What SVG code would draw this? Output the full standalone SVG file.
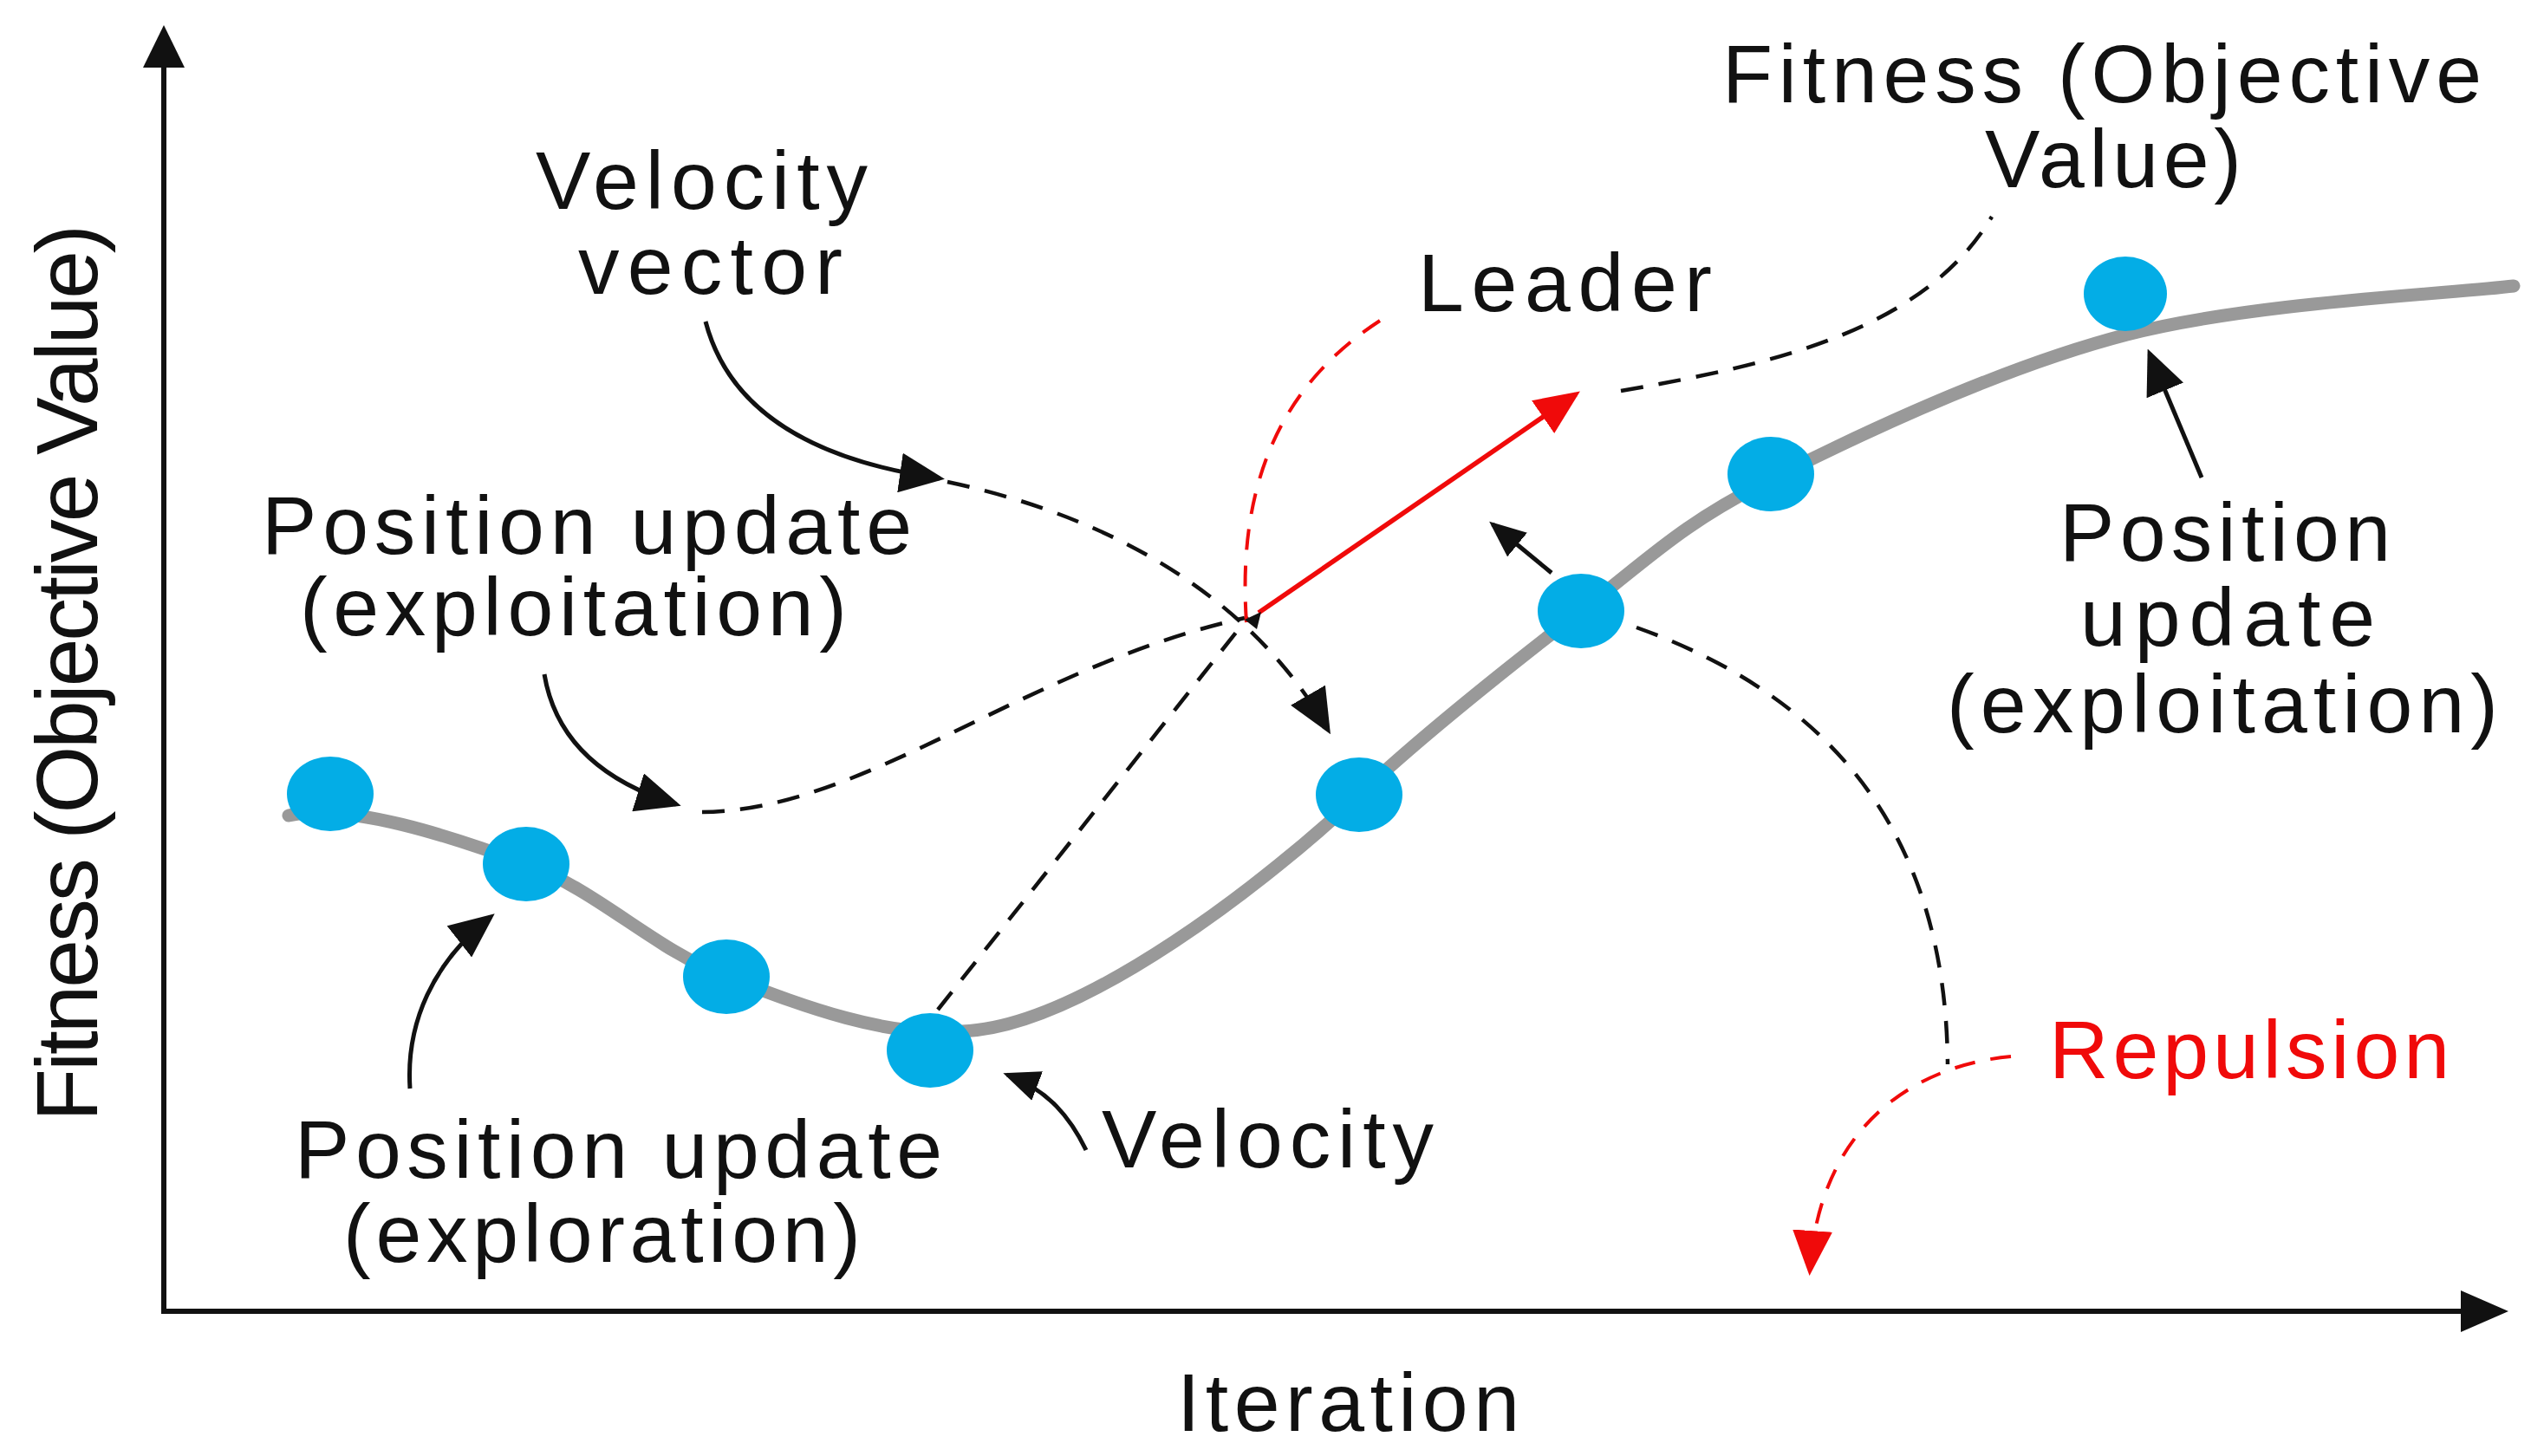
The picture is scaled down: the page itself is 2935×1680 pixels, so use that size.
<svg xmlns="http://www.w3.org/2000/svg" width="2935" height="1680" viewBox="0 0 2935 1680">
<style>
text{font-family:"Liberation Sans",Arial,sans-serif;font-size:95px;fill:#111}
.red{fill:#f00a0a}
.axis{stroke:#111;stroke-width:6;fill:none}
.curve{stroke:#999;stroke-width:15;fill:none;stroke-linecap:round}
.node{fill:#03ade6}
.solid{stroke:#111;stroke-width:5;fill:none}
.dash{stroke:#111;stroke-width:4.5;fill:none;stroke-dasharray:26 18}
.rdash{stroke:#f00a0a;stroke-width:4;fill:none;stroke-dasharray:24 18}
.rsolid{stroke:#f00a0a;stroke-width:5.5;fill:none}
</style>
<defs>
<marker id="ab" viewBox="0 0 52 46" refX="46" refY="23" markerWidth="52" markerHeight="46" markerUnits="userSpaceOnUse" orient="auto"><path d="M0,0 L52,23 L0,46 z" fill="#111"/></marker>
<marker id="as" viewBox="0 0 42 36" refX="37" refY="18" markerWidth="42" markerHeight="36" markerUnits="userSpaceOnUse" orient="auto"><path d="M0,0 L42,18 L0,36 z" fill="#111"/></marker>
<marker id="ar" viewBox="0 0 52 46" refX="46" refY="23" markerWidth="52" markerHeight="46" markerUnits="userSpaceOnUse" orient="auto"><path d="M0,0 L52,23 L0,46 z" fill="#f00a0a"/></marker>
</defs>
<rect width="2935" height="1680" fill="#fff"/>
<g id="axes">
<path class="axis" d="M189 1513 L189 72"/>
<path d="M189 29 L213 78 L165 78 z" fill="#111"/>
<path class="axis" d="M186 1513 L2845 1513"/>
<path d="M2894 1513 L2839 1489 L2839 1537 z" fill="#111"/>
<text transform="translate(112,1294) rotate(-90)" textLength="1035" lengthAdjust="spacing" style="font-size:100px">Fitness (Objective Value)</text>
<text x="1358" y="1651" textLength="395" lengthAdjust="spacing">Iteration</text>
</g>
<g id="curve">
<path class="curve" d="M333 941 C400 925,523 966,607 997 C691 1028,754 1095,838 1127 C922 1159,1021 1198,1110 1190 C1250 1185,1470 1010,1568 917 C1640 849,1745 766,1824 705 C1903 644,1938 606,2043 553 C2148 500,2311 423,2454 386 C2597 349,2826 339,2900 330"/>
</g>
<g id="connectors">
<path class="solid" d="M814 371 C840 470,930 530,1084 552" marker-end="url(#ab)"/>
<path class="dash" d="M1093 556 C1300 600,1450 700,1532 842" marker-end="url(#ab)"/>
<path class="solid" d="M628 778 C640 850,690 900,780 928" marker-end="url(#ab)"/>
<path class="dash" d="M810 937 C1000 935,1180 770,1436 713"/>
<path class="dash" d="M1082 1165 L1440 712"/>
<path class="rdash" d="M1592 370 C1500 430,1425 530,1438 718"/>
<path class="rsolid" d="M1452 707 L1818 455" marker-end="url(#ar)"/>
<path d="M1436 715 L1455 706 L1450 726 z" fill="#111"/>
<path class="dash" d="M1870 451 C2050 420,2220 380,2298 250"/>
<path class="solid" d="M1790 661 L1722 605" marker-end="url(#as)"/>
<path class="solid" d="M2540 551 L2480 408" marker-end="url(#ab)"/>
<path class="solid" d="M473 1256 C468 1180,500 1110,566 1058" marker-end="url(#ab)"/>
<path class="solid" d="M1253 1327 C1235 1290,1210 1258,1162 1240" marker-end="url(#as)"/>
<path class="dash" d="M1888 724 C2100 800,2245 950,2247 1228"/>
<path class="rdash" d="M2320 1219 C2220 1228,2100 1290,2088 1466" marker-end="url(#ar)"/>
</g>
<g id="n1"><ellipse class="node" cx="381" cy="916" rx="50" ry="43"/></g>
<g id="n2"><ellipse class="node" cx="607" cy="997" rx="50" ry="43"/></g>
<g id="n3"><ellipse class="node" cx="838" cy="1127" rx="50" ry="43"/></g>
<g id="n4"><ellipse class="node" cx="1073" cy="1212" rx="50" ry="43"/></g>
<g id="n5"><ellipse class="node" cx="1568" cy="917" rx="50" ry="43"/></g>
<g id="n6"><ellipse class="node" cx="1824" cy="705" rx="50" ry="43"/></g>
<g id="n7"><ellipse class="node" cx="2043" cy="547" rx="50" ry="43"/></g>
<g id="n8"><ellipse class="node" cx="2452" cy="339" rx="48" ry="43"/></g>
<g id="labels">
<text x="618" y="241" textLength="383" lengthAdjust="spacing">Velocity</text>
<text x="667" y="339" textLength="305" lengthAdjust="spacing">vector</text>
<text x="302" y="639" textLength="750" lengthAdjust="spacing">Position update</text>
<text x="346" y="733" textLength="631" lengthAdjust="spacing">(exploitation)</text>
<text x="340" y="1359" textLength="747" lengthAdjust="spacing">Position update</text>
<text x="396" y="1456" textLength="597" lengthAdjust="spacing">(exploration)</text>
<text x="1271" y="1347" textLength="383" lengthAdjust="spacing">Velocity</text>
<text x="1636" y="359" textLength="339" lengthAdjust="spacing">Leader</text>
<text x="1987" y="118" textLength="876" lengthAdjust="spacing">Fitness (Objective</text>
<text x="2290" y="216" textLength="296" lengthAdjust="spacing">Value)</text>
<text x="2376" y="647" textLength="382" lengthAdjust="spacing">Position</text>
<text x="2400" y="745" textLength="340" lengthAdjust="spacing">update</text>
<text x="2246" y="845" textLength="636" lengthAdjust="spacing">(exploitation)</text>
<text class="red" x="2364" y="1244" textLength="462" lengthAdjust="spacing">Repulsion</text>
</g>
</svg>
